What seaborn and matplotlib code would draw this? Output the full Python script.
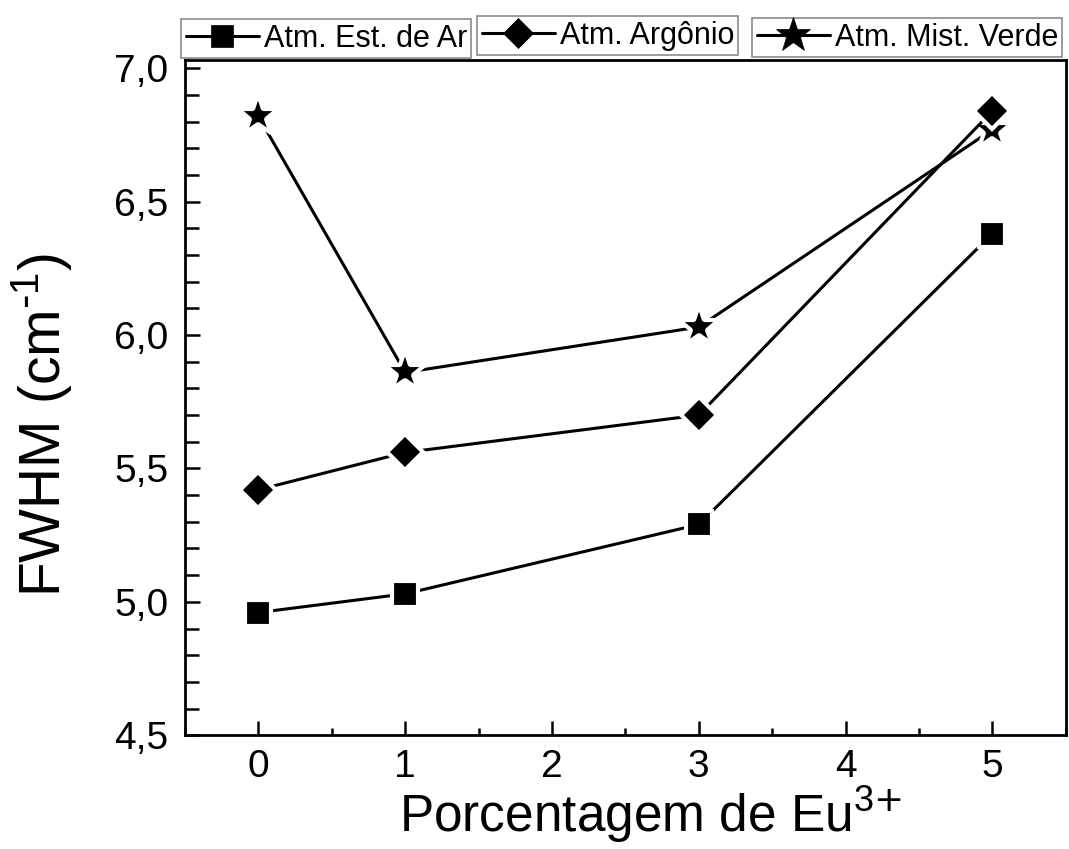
import matplotlib
matplotlib.use("Agg")
import matplotlib.pyplot as plt
from matplotlib.ticker import FixedLocator, FixedFormatter, MultipleLocator
from matplotlib.lines import Line2D
import seaborn as sns
import pandas as pd

# Eu3+ content (%) and FWHM (cm^-1) for each annealing atmosphere
eu_percent = [0, 1, 3, 5]
fwhm_ar = [4.96, 5.03, 5.29, 6.38]
fwhm_argonio = [5.42, 5.56, 5.70, 6.84]
fwhm_verde = [6.82, 5.86, 6.03, 6.77]

series_names = ["Atm. Est. de Ar", "Atm. Argônio", "Atm. Mist. Verde"]
x_ticks = [0, 1, 2, 3, 4, 5]
x_tick_labels = ["0", "1", "2", "3", "4", "5"]
y_ticks = [4.5, 5.0, 5.5, 6.0, 6.5, 7.0]
y_tick_labels = ["4,5", "5,0", "5,5", "6,0", "6,5", "7,0"]

sns.set_style("white")
plt.rcParams["font.family"] = ["Liberation Sans", "DejaVu Sans"]
plt.rcParams["mathtext.default"] = "regular"
plt.rcParams["text.color"] = "black"
plt.rcParams["axes.labelcolor"] = "black"

fig = plt.figure(figsize=(10.69, 8.49), dpi=100)
ax = fig.add_axes([0.173, 0.134, 0.824, 0.795])

frames = [
    pd.DataFrame({"x": eu_percent, "y": fwhm_ar}),
    pd.DataFrame({"x": eu_percent, "y": fwhm_argonio}),
    pd.DataFrame({"x": eu_percent, "y": fwhm_verde}),
]
markers = ["s", "D", "*"]
sizes = [19, 18.5, 31]
zorders = [3, 4, 3]

for df, mk, ms, zo in zip(frames, markers, sizes, zorders):
    sns.lineplot(data=df, x="x", y="y", ax=ax, color="black", linewidth=2.2,
                 marker=mk, markersize=ms, markerfacecolor="black",
                 markeredgecolor="white", markeredgewidth=3.0, sort=False,
                 zorder=zo)

ax.set_xlim(-0.5, 5.5)
ax.set_ylim(4.5, 7.03)

ax.xaxis.set_major_locator(FixedLocator(x_ticks))
ax.xaxis.set_major_formatter(FixedFormatter(x_tick_labels))
ax.xaxis.set_minor_locator(MultipleLocator(0.5))
ax.yaxis.set_major_locator(FixedLocator(y_ticks))
ax.yaxis.set_major_formatter(FixedFormatter(y_tick_labels))
ax.yaxis.set_minor_locator(MultipleLocator(0.1))

ax.tick_params(axis="both", which="both", direction="in", bottom=True, left=True,
               top=False, right=False, labelsize=28, width=1.8, colors="black")
ax.tick_params(axis="x", which="major", length=10, pad=10)
ax.tick_params(axis="x", which="minor", length=5)
ax.tick_params(axis="y", which="major", length=11, pad=12)
ax.tick_params(axis="y", which="minor", length=10)

for s in ax.spines.values():
    s.set_visible(True)
    s.set_linewidth(2.0)
    s.set_color("black")

ax.set_xlabel("Porcentagem de Eu$^{3\\text{+}}$", fontsize=37)
ax.set_ylabel("FWHM (cm$^{\\text{-}1}$)", fontsize=41)
ax.xaxis.set_label_coords(0.528, -0.072)
ax.yaxis.set_label_coords(-0.126, 0.46)

# Three separate framed legend boxes above the plot
anchors = [(181 / 1069, 1 - 19 / 849), (477 / 1069, 1 - 16 / 849), (752 / 1069, 1 - 18 / 849)]
for name, mk, ms, anchor in zip(series_names, markers, sizes, anchors):
    h = Line2D([], [], color="black", linewidth=2.2, marker=mk,
               markersize=ms * 0.85, markerfacecolor="black", markeredgecolor="black",
               markeredgewidth=0.5)
    leg = fig.legend(handles=[h], labels=[name], loc="upper left",
                     bbox_to_anchor=anchor, bbox_transform=fig.transFigure,
                     fontsize=22, frameon=True, fancybox=False, handlelength=2.4,
                     handletextpad=0.15, borderpad=0.15, borderaxespad=0)
    fr = leg.get_frame()
    fr.set_edgecolor("#8a8a8a")
    fr.set_linewidth(1.2)
    fr.set_facecolor("white")
    fr.set_alpha(1)

fig.savefig("out.png", dpi=100, facecolor="white")
